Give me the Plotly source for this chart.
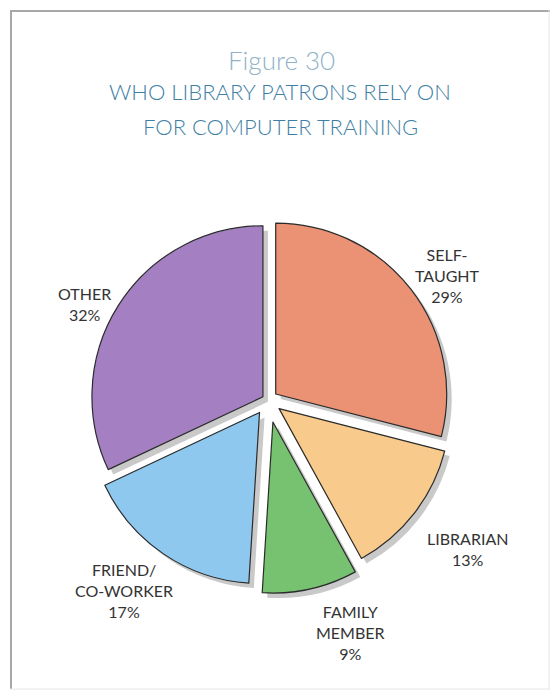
import plotly.graph_objects as go

# Survey shares: who library patrons rely on for computer training
categories = ["SELF-TAUGHT", "LIBRARIAN", "FAMILY MEMBER", "FRIEND/CO-WORKER", "OTHER"]
label_lines = [["SELF-", "TAUGHT"], ["LIBRARIAN"], ["FAMILY", "MEMBER"], ["FRIEND/", "CO-WORKER"], ["OTHER"]]
shares = [29, 13, 9, 17, 32]
slice_colors = ["#eb9174", "#f8ca8c", "#76c270", "#8fc8ee", "#a480c2"]
# how far each slice is pulled out from the centre (fraction of radius)
slice_pull = [0.057, 0.082, 0.132, 0.088, 0.035]

W, H = 551, 691


def px(x):
    return x / W


def py(y):
    return 1 - y / H


# pie geometry (pixels)
cx, cy, r = 268, 400, 171
R = r * (1 + max(slice_pull))
shadow_dx, shadow_dy = 5, 5

fig = go.Figure()

# soft drop shadow under the slices
fig.add_trace(go.Pie(
    values=shares, labels=categories, sort=False, direction="clockwise", rotation=0,
    pull=slice_pull, textinfo="none", hoverinfo="skip", showlegend=False,
    marker=dict(colors=["#c9c9c9"] * len(shares), line=dict(width=0)),
    domain=dict(x=[px(cx + shadow_dx - R), px(cx + shadow_dx + R)],
                y=[py(cy + shadow_dy + R), py(cy + shadow_dy - R)]),
))

fig.add_trace(go.Pie(
    values=shares, labels=categories, sort=False, direction="clockwise", rotation=0,
    pull=slice_pull, textinfo="none", showlegend=False,
    marker=dict(colors=slice_colors, line=dict(width=1.2, color="#2b2b2b")),
    domain=dict(x=[px(cx - R), px(cx + R)], y=[py(cy + R), py(cy - R)]),
))

# slice label positions (pixel centres)
label_pos = [(447, 275), (467, 549), (350, 632), (124, 590), (84, 304)]
annotations = []
for lines, v, (lx, ly) in zip(label_lines, shares, label_pos):
    annotations.append(dict(
        text="<br>".join(lines + [f"{v}%"]), x=px(lx), y=py(ly), xref="paper", yref="paper",
        showarrow=False, xanchor="center", yanchor="middle", align="center",
        font=dict(family="Lato", size=16, color="#333333"),
    ))

# headings
annotations.append(dict(
    text="Figure 30", x=px(281), y=py(60), xref="paper", yref="paper", showarrow=False,
    xanchor="center", yanchor="middle",
    font=dict(family="Lato", size=26, color="#8fb2c8", weight=300),
))
for txt, yy in [("WHO LIBRARY PATRONS RELY ON", 92), ("FOR COMPUTER TRAINING", 127)]:
    annotations.append(dict(
        text=txt, x=px(280), y=py(yy), xref="paper", yref="paper", showarrow=False,
        xanchor="center", yanchor="middle",
        font=dict(family="Lato", size=22, color="#3f7fa5", weight=300),
    ))

# frame around the figure panel
shapes = [
    dict(type="line", xref="paper", yref="paper", x0=px(11), x1=px(11), y0=py(10), y1=py(689),
         line=dict(color="#a8a8a8", width=2)),
    dict(type="line", xref="paper", yref="paper", x0=px(10), x1=px(550), y0=py(11), y1=py(11),
         line=dict(color="#a8a8a8", width=2)),
    dict(type="line", xref="paper", yref="paper", x0=px(549), x1=px(549), y0=py(10), y1=py(689),
         line=dict(color="#e6e6e6", width=1)),
    dict(type="line", xref="paper", yref="paper", x0=px(10), x1=px(550), y0=py(689), y1=py(689),
         line=dict(color="#e6e6e6", width=1)),
]

fig.update_layout(
    width=W, height=H, margin=dict(l=0, r=0, t=0, b=0),
    paper_bgcolor="white", plot_bgcolor="white",
    annotations=annotations, shapes=shapes, showlegend=False,
)

fig.write_html("out.html")
